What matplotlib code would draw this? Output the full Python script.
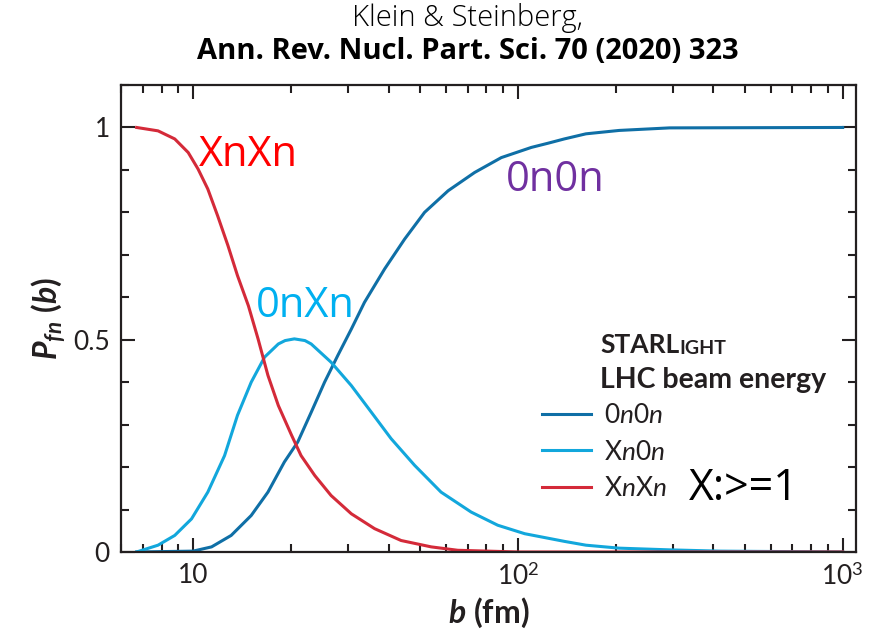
import matplotlib.pyplot as plt
from matplotlib.ticker import FixedLocator, FixedFormatter, NullFormatter

plt.rcParams['font.family'] = ['Lato', 'DejaVu Sans']
plt.rcParams['mathtext.fontset'] = 'custom'
plt.rcParams['mathtext.rm'] = 'Lato'
plt.rcParams['mathtext.it'] = 'Lato:italic'
plt.rcParams['mathtext.bf'] = 'Lato:bold'
plt.rcParams['mathtext.bfit'] = 'Lato:italic:bold'

# curves (b in fm)
b_0n0n = [6.7, 10, 11.4, 13.1, 15.1, 17.0, 19.1, 21.0, 23.1, 25.4, 27.9, 30.7, 33.7,
          38.9, 44.8, 51.6, 61.0, 73.6, 88.9, 110, 124, 139, 162, 205, 293, 1000]
p_0n0n = [0.0, 0.002, 0.012, 0.039, 0.086, 0.141, 0.212, 0.259, 0.329, 0.40, 0.463,
          0.525, 0.588, 0.667, 0.737, 0.80, 0.851, 0.894, 0.929, 0.953, 0.963, 0.973,
          0.985, 0.993, 0.999, 1.0]

b_xn0n = [6.7, 7.8, 8.78, 9.89, 11.1, 12.5, 13.7, 15.1, 16.6, 18.3, 19.2, 20.5, 22.1,
          23.1, 26.6, 30.7, 35.4, 40.7, 48.1, 58.0, 71.8, 86.7, 105, 139, 162, 205, 293,
          417, 1000]
p_xn0n = [0.0, 0.016, 0.039, 0.078, 0.141, 0.227, 0.322, 0.40, 0.459, 0.490, 0.498,
          0.502, 0.498, 0.490, 0.447, 0.392, 0.329, 0.267, 0.204, 0.141, 0.094, 0.063,
          0.043, 0.025, 0.016, 0.009, 0.005, 0.002, 0.0]

b_xnxn = [6.7, 7.8, 8.78, 9.66, 10.36, 11.1, 11.9, 12.8, 13.7, 14.8, 15.85, 17.0, 18.3,
          20.1, 21.5, 23.7, 26.6, 30.7, 36.2, 43.7, 54.1, 65.3, 100, 1000]
p_xnxn = [1.0, 0.992, 0.973, 0.941, 0.902, 0.855, 0.792, 0.722, 0.651, 0.580, 0.502,
          0.416, 0.345, 0.275, 0.227, 0.180, 0.133, 0.090, 0.055, 0.027, 0.012, 0.004,
          0.0, 0.0]

fig = plt.figure(figsize=(8.72, 6.33), dpi=100)
ax = fig.add_axes([0.1388, 0.128, 0.843, 0.7377])

l1, = ax.semilogx(b_0n0n, p_0n0n, color='#0F6FA6', lw=2.2)
l2, = ax.semilogx(b_xn0n, p_xn0n, color='#12A7DC', lw=2.2)
l3, = ax.semilogx(b_xnxn, p_xnxn, color='#D42A39', lw=2.2)

ax.set_xlim(6.0, 1100)
ax.set_ylim(0, 1.1)

# ticks
ax.xaxis.set_major_locator(FixedLocator([10, 100, 1000]))
ax.xaxis.set_major_formatter(FixedFormatter(['10', r'10$^{\mathregular{2}}$', r'10$^{\mathregular{3}}$']))
minors = [v * d for d in (1, 10, 100) for v in range(2, 10)]
ax.xaxis.set_minor_locator(FixedLocator(minors))
ax.xaxis.set_minor_formatter(NullFormatter())
ax.yaxis.set_major_locator(FixedLocator([0, 0.5, 1]))
ax.yaxis.set_major_formatter(FixedFormatter(['0', '0.5', '1']))
ax.yaxis.set_minor_locator(FixedLocator([0.1, 0.2, 0.3, 0.4, 0.6, 0.7, 0.8, 0.9, 1.1]))
ax.tick_params(which='both', direction='in', top=True, right=True, width=1.5,
               labelsize=19, pad=8, colors='#231F20')
ax.tick_params(which='major', length=10)
ax.tick_params(which='minor', length=5.5)
for s in ax.spines.values():
    s.set_linewidth(1.6)
    s.set_color('#231F20')

ax.set_xlabel(r'$\mathbfit{b}$ (fm)', fontsize=23, fontweight='bold', labelpad=4,
              color='#231F20')
ax.set_ylabel(r'$\mathbfit{P}_{\mathbfit{fn}}\ \mathbf{(}\mathbfit{b}\mathbf{)}$',
              fontsize=23, labelpad=4, color='#231F20')

# curve annotations
ax.text(10.4, 0.934, 'XnXn', color='#FF0000', fontsize=30, va='center',
        family='Open Sans')
ax.text(15.6, 0.579, '0nXn', color='#00B0F0', fontsize=30, va='center',
        family='Open Sans')
ax.text(92, 0.877, '0n0n', color='#7030A0', fontsize=30, va='center',
        family='Open Sans')
ax.text(337, 0.148, 'X:>=1', color='black', fontsize=31, va='center',
        family='Open Sans')

# legend block
t1 = ax.text(0.652, 0.443, 'STARL', transform=ax.transAxes, fontsize=19,
             fontweight='bold', va='center', color='#231F20')
ax.annotate('IGHT', xy=(1, 0), xycoords=t1, va='bottom', fontsize=14,
            fontweight='bold', color='#231F20')
ax.text(0.652, 0.368, 'LHC beam energy', transform=ax.transAxes, fontsize=20.5,
        fontweight='bold', va='center', color='#231F20')
ax.legend([l1, l2, l3],
          [r'0$\mathit{n}$0$\mathit{n}$', r'X$\mathit{n}$0$\mathit{n}$', r'X$\mathit{n}$X$\mathit{n}$'],
          loc='center left', bbox_to_anchor=(0.573, 0.214), frameon=False, fontsize=19,
          handlelength=1.85, labelspacing=0.44, handletextpad=0.5, borderpad=0,
          borderaxespad=0, labelcolor='#231F20')

fig.text(0.536, 0.972, 'Klein & Steinberg,', ha='center', va='center', fontsize=21,
         fontweight='light', family='Open Sans')
fig.text(0.536, 0.918, 'Ann. Rev. Nucl. Part. Sci. 70 (2020) 323', ha='center',
         va='center', fontsize=21, fontweight='bold', family='Open Sans')

fig.savefig('out.png', dpi=100)
